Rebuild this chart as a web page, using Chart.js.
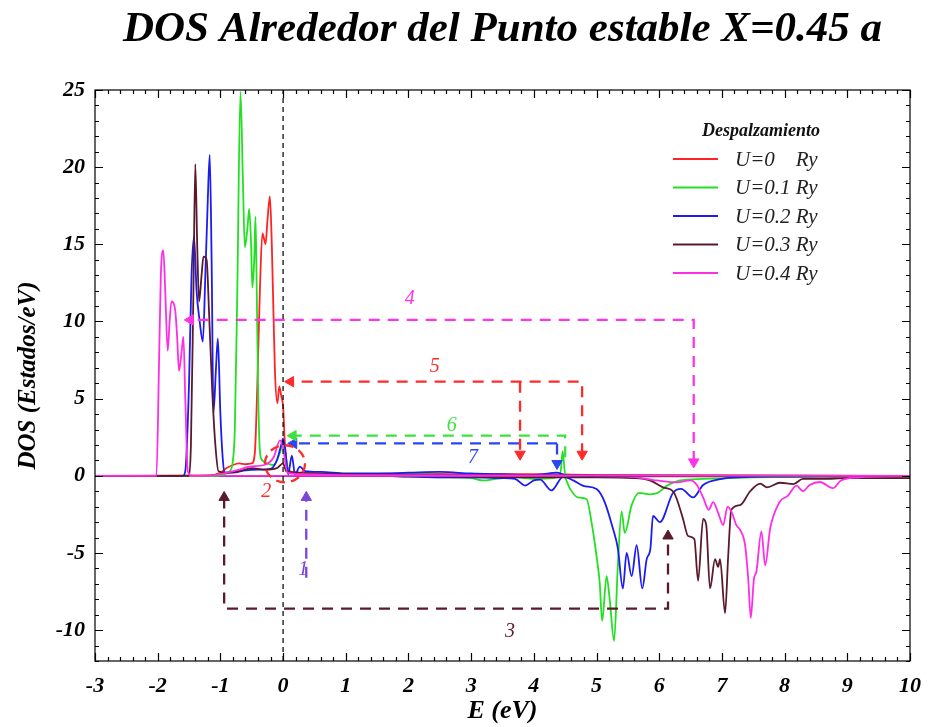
<!DOCTYPE html>
<html>
<head>
<meta charset="utf-8">
<script src="https://cdn.jsdelivr.net/npm/chart.js@4.4.1/dist/chart.umd.min.js"></script>
<style>
html,body{margin:0;padding:0;background:#fff;}
canvas{display:block;}
</style>
</head>
<body>
<canvas id="c" width="930" height="727"></canvas>
<script>
// ---------- tick labels ----------
const xTicks = [-3,-2,-1,0,1,2,3,4,5,6,7,8,9,10];
const yTicks = [-10,-5,0,5,10,15,20,25];

// ---------- series labels ----------
const seriesLabels = ['U=0    Ry','U=0.1 Ry','U=0.2 Ry','U=0.3 Ry','U=0.4 Ry'];

// ---------- spin-up DOS (E, DOS) ----------
const upU0 = [[-3,0],[-1.2,0.02],[-1.0,0.2],[-0.9,0.5],[-0.8,0.7],[-0.7,0.8],[-0.6,0.75],[-0.5,0.8],[-0.45,1.5],[-0.41,6],[-0.37,12],[-0.33,15.7],[-0.30,15.3],[-0.28,15.0],[-0.25,16.5],[-0.21,18.1],[-0.18,15],[-0.15,10],[-0.13,6.8],[-0.09,4.7],[-0.06,5.8],[-0.03,5.2],[0.0,4.5],[0.03,2],[0.07,0.5],[0.1,0.3],[0.3,0.2],[0.5,0.15],[1,0.1],[2,0.15],[3,0.1],[4,0.1],[5,0.05],[6,0.02],[10,0]];
const upU1 = [[-3,0],[-1.1,0],[-1.0,0.05],[-0.9,0.15],[-0.85,0.3],[-0.8,1.0],[-0.77,3],[-0.73,12],[-0.68,24.9],[-0.64,19],[-0.61,14.8],[-0.57,16],[-0.54,17.3],[-0.51,15],[-0.49,12.2],[-0.46,14],[-0.44,16.8],[-0.42,12],[-0.40,6],[-0.37,1.6],[-0.33,1.0],[-0.25,0.8],[-0.15,0.7],[-0.05,1.5],[0.0,2.2],[0.05,1.0],[0.1,0.2],[0.2,0.2],[0.5,0.15],[1,0.1],[2,0.1],[3,0.05],[4,0.05],[4.42,0.05],[4.46,1.6],[4.5,0.1],[5,0],[10,0]];
const upU2 = [[-3,0],[-1.6,0],[-1.56,0.3],[-1.5,6],[-1.46,13],[-1.42,15.5],[-1.38,12],[-1.33,10],[-1.28,8.7],[-1.24,13],[-1.2,18],[-1.17,20.8],[-1.14,14],[-1.11,4.1],[-1.07,7],[-1.04,8.9],[-1.0,4],[-0.96,1],[-0.93,0.2],[-0.8,0.2],[-0.6,0.35],[-0.4,0.4],[-0.2,0.45],[-0.1,1.0],[-0.03,2.0],[0.0,2.4],[0.04,1.5],[0.08,0.1],[0.14,1.3],[0.19,0.1],[0.27,0.6],[0.35,0.3],[0.6,0.25],[1,0.15],[1.5,0.15],[2,0.2],[2.5,0.25],[3,0.15],[3.5,0.1],[4,0.05],[4.37,0.2],[4.5,0.05],[5,0],[10,0]];
const upU3 = [[-3,0],[-1.5,0],[-1.47,2],[-1.43,12],[-1.40,20.2],[-1.37,15],[-1.34,11.3],[-1.30,13],[-1.27,14.2],[-1.22,14],[-1.18,10.5],[-1.13,5.5],[-1.08,2],[-1.03,0.3],[-0.9,0.2],[-0.7,0.3],[-0.5,0.5],[-0.3,0.4],[-0.1,0.5],[0,0.8],[0.05,0.3],[0.2,0.2],[1,0.1],[3,0.05],[5,0.02],[10,0]];
const upU4 = [[-3,0],[-2.02,0],[-1.98,7],[-1.95,13],[-1.91,14.6],[-1.88,12],[-1.84,8.1],[-1.81,10],[-1.78,11.3],[-1.72,10.7],[-1.69,9],[-1.66,6.8],[-1.62,8],[-1.59,9.0],[-1.56,5],[-1.52,0.3],[-1.45,0],[-1.1,0.05],[-0.9,0.2],[-0.7,0.4],[-0.53,0.6],[-0.3,0.7],[-0.15,1.2],[-0.05,2.3],[0.0,1.8],[0.07,0.2],[0.3,0.1],[1,0.05],[10,0]];

// ---------- spin-down DOS (E, DOS) ----------
const dnU0 = [[-3,0],[10,-0.05]];
const dnU1 = [[-3,0],[1.5,0],[2,-0.05],[2.5,-0.1],[3.0,-0.15],[3.19,-0.3],[3.4,-0.2],[3.7,-0.1],[4.0,-0.2],[4.3,-0.15],[4.47,0],[4.58,-0.86],[4.7,-1.4],[4.84,-1.5],[4.92,-3.0],[5.0,-5.2],[5.05,-6.9],[5.09,-9.4],[5.16,-6.5],[5.21,-8.0],[5.28,-10.7],[5.34,-5.8],[5.40,-2.3],[5.45,-3.7],[5.56,-1.9],[5.68,-1.1],[5.85,-1.2],[5.98,-1.1],[6.12,-0.65],[6.33,-0.3],[6.7,-0.2],[7.5,-0.1],[8.5,-0.05],[10,0]];
const dnU2 = [[-3,0],[1.5,0],[2,-0.05],[2.5,-0.1],[3.0,-0.1],[3.5,-0.15],[3.7,-0.2],[3.86,-0.63],[4.0,-0.3],[4.1,-0.25],[4.28,-0.95],[4.47,-0.05],[4.63,-0.3],[4.79,-0.65],[5.0,-0.86],[5.13,-1.7],[5.26,-3.4],[5.34,-4.7],[5.42,-7.3],[5.48,-5.0],[5.56,-6.5],[5.64,-4.5],[5.73,-7.3],[5.80,-5.4],[5.86,-4.7],[5.90,-2.6],[6.01,-3.0],[6.22,-1.1],[6.35,-0.85],[6.54,-1.4],[6.70,-0.6],[7.0,-0.2],[7.24,-0.1],[8,-0.05],[10,0]];
const dnU3 = [[-3,0],[2,0],[3,-0.05],[4,-0.1],[5,-0.1],[5.6,-0.15],[5.85,-0.3],[6.06,-0.75],[6.22,-1.0],[6.28,-1.5],[6.38,-2.8],[6.46,-3.9],[6.56,-4.1],[6.62,-6.8],[6.70,-2.8],[6.75,-3.2],[6.81,-7.3],[6.89,-5.4],[6.94,-5.9],[6.97,-5.4],[7.05,-8.9],[7.10,-5.2],[7.15,-2.2],[7.29,-1.9],[7.45,-1.0],[7.61,-0.5],[7.72,-0.75],[7.93,-0.45],[8.14,-0.54],[8.29,-0.2],[8.6,-0.2],[9,-0.15],[10,-0.15]];
const dnU4 = [[-3,0],[4,0],[5.5,-0.05],[5.96,-0.3],[6.28,-0.43],[6.5,-0.3],[6.6,-0.6],[6.7,-1.4],[6.79,-2.2],[6.86,-1.7],[6.94,-2.4],[7.02,-3.2],[7.09,-2.0],[7.16,-2.4],[7.23,-3.2],[7.29,-3.5],[7.37,-4.5],[7.42,-6.7],[7.46,-9.2],[7.51,-6.7],[7.55,-6.2],[7.63,-3.6],[7.69,-5.8],[7.77,-3.4],[7.92,-1.7],[8.05,-1.3],[8.19,-0.63],[8.29,-1.0],[8.40,-0.6],[8.56,-0.4],[8.77,-0.8],[8.9,-0.3],[9.2,-0.1],[10,0]];

// ---------- annotation paths (E, DOS) ----------
const fermiLine = [[0,-12],[0,25]];
const path4 = [[6.55,0.9],[6.55,10.1],[-1.48,10.1]];
const path5 = [[4.77,1.4],[4.77,6.1],[0.12,6.1]];
const path5b = [[3.78,6.1],[3.78,1.4]];
const path6 = [[4.5,1.2],[4.5,2.6],[0.16,2.6]];
const path7 = [[4.37,2.1],[0.17,2.1]];
const path7b = [[4.37,2.1],[4.37,0.8]];
const path1 = [[0.37,-6.6],[0.37,-1.4]];
const path3 = [[-0.94,-1.4],[-0.94,-8.6],[6.14,-8.6],[6.14,-3.9]];
const annLabels = [['4',2.02,11.45],['5',2.42,7.05],['6',2.69,3.25],['7',3.03,1.2],['2',-0.27,-1.05],['1',0.32,-6.1],['3',3.62,-10.1]];
const ring2 = [0.03,0.78,0.32,1.2];

// ---------- styling ----------
const colors = ['#ff2323','#22e022','#1c1cf0','#5a1a2c','#ff2ee6'];
const annColors = {'4':'#ff33e8','5':'#ff2a2a','6':'#3ee03e','7':'#2b44f5','2':'#ff2a2a','1':'#7a45d8','3':'#5a1a2c'};
const SERIF = "'Liberation Serif','Times New Roman',serif";

const toXY = arr => arr.map(p => ({x:p[0], y:p[1]}));
const datasets = [];
const ups=[upU0,upU1,upU2,upU3,upU4], dns=[dnU0,dnU1,dnU2,dnU3,dnU4];

function arrowDs(pts, color, heads, dash) {
  const n = pts.length;
  const radius = pts.map((p,i)=> (i===0 && heads[0]!==null) || (i===n-1 && heads[1]!==null) ? 6 : 0);
  const rot = pts.map((p,i)=> i===0 ? (heads[0]||0) : (i===n-1 ? (heads[1]||0) : 0));
  return {label:'_ann', data: toXY(pts), borderColor: color, backgroundColor: color,
    borderWidth: 2.3, borderDash: dash || [11,8], pointStyle:'triangle', pointRadius: radius,
    pointRotation: rot, pointBackgroundColor: color, pointBorderColor: color, pointBorderWidth:1,
    tension:0, order: 0, ann:true};
}
datasets.push(arrowDs(fermiLine,'#111',[null,null],[5,4]));
datasets[0].borderWidth = 1.3;
datasets.push(arrowDs(path4, annColors['4'], [180,270]));
datasets.push(arrowDs(path5, annColors['5'], [180,270]));
datasets.push(arrowDs(path5b, annColors['5'], [null,180]));
datasets.push(arrowDs(path6, annColors['6'], [null,270]));
datasets.push(arrowDs(path7, annColors['7'], [null,270]));
datasets.push(arrowDs(path7b, annColors['7'], [null,180]));
datasets.push(arrowDs(path1, annColors['1'], [null,0]));
datasets.push(arrowDs(path3, annColors['3'], [0,0]));

for (let i=0;i<5;i++){
  datasets.push({label: seriesLabels[i], data: toXY(ups[i]), borderColor: colors[i], borderWidth:1.8,
    pointRadius:0, cubicInterpolationMode:'monotone', order: 10 - i});
  datasets.push({label: '_dn'+i, data: toXY(dns[i]), borderColor: colors[i], borderWidth:1.8,
    pointRadius:0, cubicInterpolationMode:'monotone', order: 20 - i});
}

const framePlugin = {
  id:'frame',
  afterDraw(chart){
    const {ctx, chartArea:a, scales:{x,y}} = chart;
    ctx.save();
    ctx.strokeStyle='#000'; ctx.lineWidth=1.2; ctx.setLineDash([]);
    ctx.strokeRect(a.left, a.top, a.right-a.left, a.bottom-a.top);
    ctx.beginPath();
    for (let v=-3; v<=10.0001; v+=0.2){
      const px = Math.round(x.getPixelForValue(v))+0.5;
      const major = Math.abs(v-Math.round(v))<1e-6;
      const L = major?8:4;
      ctx.moveTo(px,a.bottom); ctx.lineTo(px,a.bottom-L);
      ctx.moveTo(px,a.top); ctx.lineTo(px,a.top+L);
    }
    for (let v=-12; v<=25; v+=1){
      const py = Math.round(y.getPixelForValue(v))+0.5;
      const L = (v%5===0)?8:4;
      ctx.moveTo(a.left,py); ctx.lineTo(a.left+L,py);
      ctx.moveTo(a.right,py); ctx.lineTo(a.right-L,py);
    }
    ctx.stroke();

    // ring 2
    ctx.strokeStyle = annColors['2']; ctx.lineWidth=2.3; ctx.setLineDash([9,6]);
    const cx=x.getPixelForValue(ring2[0]), cy=y.getPixelForValue(ring2[1]);
    const rx=Math.abs(x.getPixelForValue(ring2[0]+ring2[2])-cx), ry=Math.abs(y.getPixelForValue(ring2[1]+ring2[3])-cy);
    ctx.beginPath(); ctx.ellipse(cx,cy,rx,ry,0,0,Math.PI*2); ctx.stroke();
    ctx.setLineDash([]);

    // annotation numbers
    ctx.font = "italic 20px "+SERIF; ctx.textAlign='center'; ctx.textBaseline='middle';
    annLabels.forEach(([t,ex,ey])=>{
      ctx.fillStyle = annColors[t];
      ctx.fillText(t, x.getPixelForValue(ex), y.getPixelForValue(ey));
    });

    // legend
    ctx.fillStyle='#111';
    ctx.font = "bold italic 18px "+SERIF;
    ctx.fillText('Despalzamiento', 761, 131);
    ctx.textAlign='left';
    ctx.font = "italic 21px "+SERIF;
    const lds = chart.data.datasets.filter(d=>seriesLabels.includes(d.label));
    seriesLabels.forEach((lab,i)=>{
      const d = lds.find(dd=>dd.label===lab);
      const yy = 159 + i*28.5;
      ctx.strokeStyle = d.borderColor; ctx.lineWidth=2;
      ctx.beginPath(); ctx.moveTo(673,yy); ctx.lineTo(718,yy); ctx.stroke();
      ctx.fillStyle='#222';
      ctx.fillText(lab, 735, yy+1);
    });
    ctx.restore();
  }
};

new Chart(document.getElementById('c'), {
  type:'line',
  data:{datasets},
  options:{
    responsive:false, animation:false, devicePixelRatio:1,
    layout:{padding:{left:14,right:20,top:0,bottom:0}},
    plugins:{
      legend:{display:false}, tooltip:{enabled:false},
      title:{display:true, fullSize:false, text:'DOS Alrededor del Punto estable X=0.45 a', color:'#000',
        font:{family:SERIF, size:43, weight:'bold', style:'italic'}, padding:{top:4,bottom:34.4}}
    },
    scales:{
      x:{type:'linear', min:-3, max:10,
        afterBuildTicks: s => { s.ticks = xTicks.map(v=>({value:v})); },
        afterFit: s => { s.height = 66; s.paddingLeft = 0; s.paddingRight = 0; },
        grid:{display:false, drawTicks:false}, border:{display:false},
        ticks:{color:'#000', padding:12, autoSkip:false, maxRotation:0,
          font:{family:SERIF, size:22, weight:'bold', style:'italic'}},
        title:{display:true, text:'E (eV)', color:'#000', padding:{top:0,bottom:0},
          font:{family:SERIF, size:26, weight:'bold', style:'italic'}}
      },
      y:{type:'linear', min:-12, max:25,
        afterBuildTicks: s => { s.ticks = yTicks.map(v=>({value:v})); },
        afterFit: s => { s.width = 81; },
        grid:{display:false, drawTicks:false}, border:{display:false},
        ticks:{color:'#000', padding:10, autoSkip:false,
          font:{family:SERIF, size:22, weight:'bold', style:'italic'}},
        title:{display:true, text:'DOS (Estados/eV)', color:'#000', padding:{top:0,bottom:0},
          font:{family:SERIF, size:25, weight:'bold', style:'italic'}}
      }
    }
  },
  plugins:[framePlugin]
});
</script>
</body>
</html>
